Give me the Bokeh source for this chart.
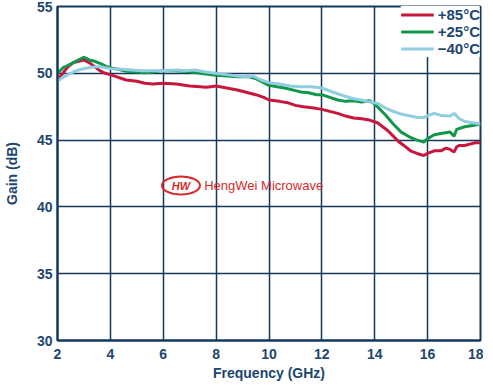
from bokeh.plotting import figure
from bokeh.models import Range1d, Legend, LegendItem, Label, FixedTicker
from bokeh.embed import file_html
from bokeh.resources import INLINE

# +85°C
f_85 = [2.0, 2.2, 2.4, 2.6, 2.8, 3.0, 3.2, 3.4, 3.6, 3.8, 4.0, 4.3, 4.6, 5.0, 5.3, 5.6, 6.0, 6.5, 7.0, 7.4,
        7.6, 7.8, 8.0, 8.4, 8.8, 9.1, 9.5, 9.8, 10.0, 10.4, 10.7, 11.0, 11.3, 11.7, 12.0, 12.3, 12.6, 12.9,
        13.2, 13.5, 13.8, 14.1, 14.3, 14.5, 14.7, 14.9, 15.1, 15.35, 15.6, 15.85, 16.0, 16.25, 16.5, 16.7,
        16.85, 17.0, 17.1, 17.2, 17.4, 17.6, 17.8, 18.0]
g_85 = [49.5, 50.0, 50.5, 50.8, 50.9, 51.0, 50.8, 50.5, 50.2, 50.0, 49.9, 49.7, 49.5, 49.4, 49.25, 49.2, 49.25,
        49.2, 49.05, 49.0, 48.95, 49.0, 49.05, 48.9, 48.75, 48.6, 48.4, 48.2, 48.0, 47.9, 47.8, 47.6, 47.5,
        47.4, 47.3, 47.15, 47.0, 46.8, 46.65, 46.6, 46.5, 46.3, 46.0, 45.7, 45.3, 44.9, 44.6, 44.2, 44.0,
        43.85, 44.0, 44.2, 44.2, 44.4, 44.3, 44.1, 44.5, 44.6, 44.6, 44.7, 44.8, 44.8]

# +25°C
f_25 = [2.0, 2.2, 2.4, 2.6, 2.8, 3.0, 3.2, 3.4, 3.6, 3.8, 4.0, 4.3, 4.6, 5.0, 5.3, 5.6, 6.0, 6.4, 6.8, 7.2,
        7.6, 8.0, 8.4, 8.8, 9.2, 9.5, 9.8, 10.0, 10.3, 10.6, 11.0, 11.2, 11.5, 11.8, 12.0, 12.3, 12.6, 12.9,
        13.2, 13.5, 13.8, 14.0, 14.2, 14.4, 14.7, 15.0, 15.35, 15.6, 15.85, 16.0, 16.25, 16.5, 16.85, 17.0,
        17.1, 17.4, 17.7, 18.0]
g_25 = [50.0, 50.4, 50.6, 50.8, 51.0, 51.2, 51.0, 50.9, 50.75, 50.55, 50.4, 50.3, 50.15, 50.1, 50.05, 50.1,
        50.2, 50.2, 50.15, 50.05, 49.95, 49.85, 49.8, 49.75, 49.75, 49.6, 49.3, 49.1, 49.0, 48.9, 48.7, 48.6,
        48.55, 48.4, 48.4, 48.2, 48.0, 47.9, 47.95, 47.85, 47.95, 47.7, 47.3, 46.9, 46.2, 45.6, 45.2, 45.0,
        44.85, 45.1, 45.4, 45.5, 45.6, 45.3, 45.8, 46.0, 46.1, 46.2]

# -40°C
f_m40 = [2.0, 2.2, 2.4, 2.6, 2.8, 3.0, 3.3, 3.6, 4.0, 4.4, 4.8, 5.2, 5.6, 6.0, 6.5, 6.9, 7.2, 7.6, 8.0, 8.4,
         8.8, 9.2, 9.4, 9.7, 10.0, 10.4, 10.8, 11.2, 11.6, 12.0, 12.4, 12.85, 13.2, 13.5, 13.7, 14.1, 14.4,
         14.7, 15.0, 15.35, 15.6, 15.87, 16.1, 16.25, 16.5, 16.85, 17.0, 17.2, 17.4, 17.7, 18.0]
g_m40 = [49.4, 49.7, 49.9, 50.1, 50.25, 50.35, 50.45, 50.5, 50.35, 50.3, 50.25, 50.2, 50.2, 50.2, 50.25, 50.2,
         50.25, 50.1, 50.0, 49.9, 49.8, 49.75, 49.8, 49.5, 49.3, 49.2, 49.05, 49.0, 49.0, 48.9, 48.6, 48.3,
         48.1, 48.0, 47.9, 47.75, 47.4, 47.15, 46.95, 46.8, 46.7, 46.7, 46.9, 47.0, 46.85, 46.8, 47.0, 46.6,
         46.4, 46.3, 46.2]

x_ticks = [2, 4, 6, 8, 10, 12, 14, 16, 18]
y_ticks = [30, 35, 40, 45, 50, 55]
labels = ["+85°C", "+25°C", "\u221240°C"]
colors = ["#c8173c", "#12974a", "#8fcde0"]

navy = "#12385c"
txt = "#1d4670"
FONT = "Liberation Sans"

p = figure(width=483, height=383, output_backend="svg", toolbar_location=None,
           x_range=Range1d(2, 18), y_range=Range1d(30, 55),
           min_border_left=55, min_border_right=3, min_border_top=6, min_border_bottom=38)

p.outline_line_color = navy
p.outline_line_width = 2
p.background_fill_color = "white"

xt = FixedTicker(ticks=x_ticks)
yt = FixedTicker(ticks=y_ticks)

for ax in (p.xaxis[0], p.yaxis[0]):
    ax.axis_line_color = navy
    ax.axis_line_width = 2
    ax.major_tick_line_color = None
    ax.minor_tick_line_color = None
    ax.major_tick_out = 0
    ax.major_tick_in = 0
    ax.major_label_text_font = FONT
    ax.major_label_text_font_style = "bold"
    ax.major_label_text_font_size = "14px"
    ax.major_label_text_color = txt
    ax.axis_label_text_font = FONT
    ax.axis_label_text_font_style = "bold"
    ax.axis_label_text_font_size = "14px"
    ax.axis_label_text_color = txt

p.xaxis.ticker = xt
p.yaxis.ticker = yt
p.xgrid.ticker = xt
p.ygrid.ticker = yt
p.xaxis.axis_label = "Frequency (GHz)"
p.yaxis.axis_label = "Gain (dB)"
p.xaxis.major_label_standoff = 8
p.yaxis.major_label_standoff = 5
p.xaxis.axis_label_standoff = 3
p.yaxis.axis_label_standoff = 14

p.xgrid.grid_line_color = navy
p.ygrid.grid_line_color = navy
p.xgrid.grid_line_width = 1.5
p.ygrid.grid_line_width = 1.5
p.xgrid.level = "underlay"
p.ygrid.level = "underlay"

r85 = p.line(f_85, g_85, line_color=colors[0], line_width=3)
r25 = p.line(f_25, g_25, line_color=colors[1], line_width=3)
r40 = p.line(f_m40, g_m40, line_color=colors[2], line_width=3)

legend = Legend(items=[LegendItem(label=labels[0], renderers=[r85]),
                       LegendItem(label=labels[1], renderers=[r25]),
                       LegendItem(label=labels[2], renderers=[r40])],
                location="top_right", margin=0, padding=5, spacing=0,
                glyph_width=33, glyph_height=17, label_height=17, label_standoff=4,
                label_text_font=FONT, label_text_font_style="bold", label_text_font_size="15px",
                label_text_color=txt, border_line_color=None, background_fill_color="white",
                background_fill_alpha=1.0)
p.add_layout(legend)

# watermark
p.ellipse(x=[6.67], y=[41.6], width=38, height=18, width_units="screen", height_units="screen",
          fill_color=None, line_color="#d42a2a", line_width=2)
p.add_layout(Label(x=6.67, y=41.6, text="HW", text_align="center", text_baseline="middle",
                   text_font=FONT, text_font_style="bold italic", text_font_size="11px",
                   text_color="#d42a2a"))
p.add_layout(Label(x=7.55, y=41.6, text="HengWei Microwave", text_align="left", text_baseline="middle",
                   text_font=FONT, text_font_size="13px", text_color="#d42a2a"))

open("out.html", "w").write(file_html(p, INLINE))
